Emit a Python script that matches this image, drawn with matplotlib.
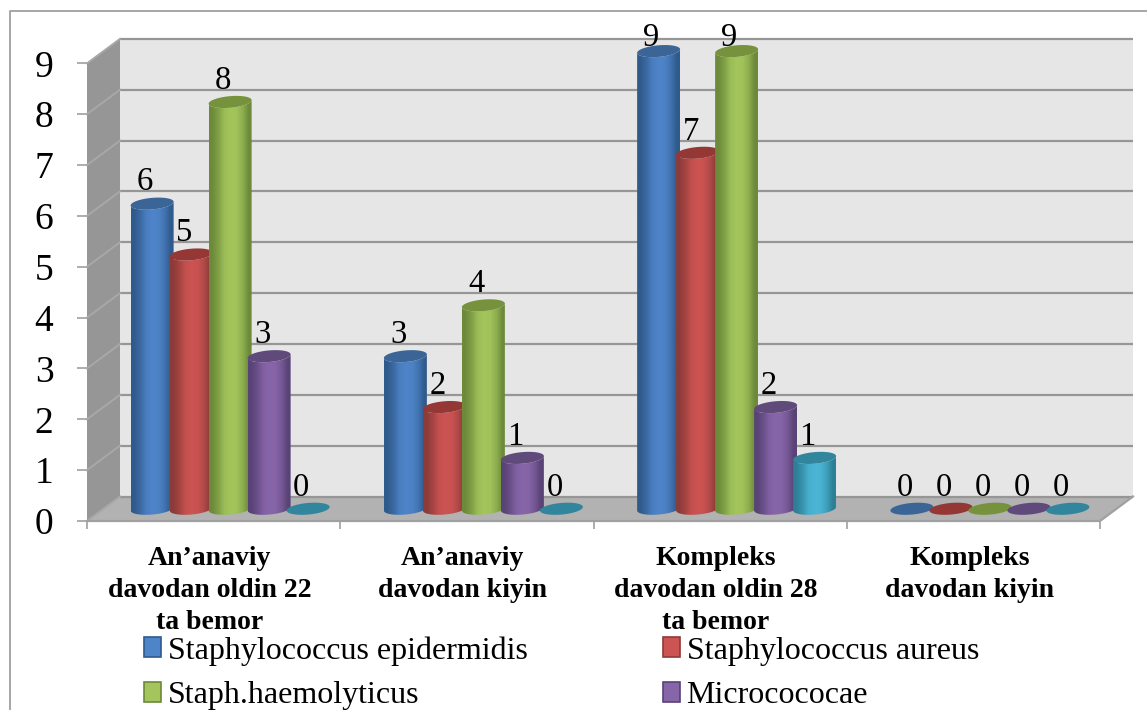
import numpy as np
import matplotlib
matplotlib.use('Agg')
import matplotlib.pyplot as plt
from matplotlib.colors import to_rgb
from matplotlib.lines import Line2D
from matplotlib.patches import Patch, Polygon

plt.rcParams['font.family'] = ['Liberation Serif', 'DejaVu Serif']

categories = ['An’anaviy\ndavodan oldin 22\nta bemor',
              'An’anaviy\ndavodan kiyin',
              'Kompleks\ndavodan oldin 28\nta bemor',
              'Kompleks\ndavodan kiyin']
legend_names = ['Staphylococcus epidermidis', 'Staphylococcus aureus',
                'Staph.haemolyticus', 'Micrococ' 'ocae']

epidermidis = [6, 3, 9, 0]
aureus = [5, 2, 7, 0]
haemolyticus = [8, 4, 9, 0]
micrococcae = [3, 1, 2, 0]
other = [0, 0, 1, 0]
series = [epidermidis, aureus, haemolyticus, micrococcae, other]

# edge, middle and top-cap colour of each cylinder
edge_colors = ['#2f5a8c', '#8c3b39', '#6c8a3a', '#594376', '#2c7f96']
mid_colors = ['#4e84c8', '#cc5452', '#a3c55c', '#8765a9', '#4cb5d5']
top_colors = ['#3a6596', '#953735', '#76923c', '#604a7b', '#31859c']

# pixel scale of the front plane
PX_X = 253.25
PX_Y = 50.85
DEPTH_X = 33 / PX_X
DEPTH_Y = 24.5 / PX_Y
PITCH = 39 / PX_X
WIDTH = 43 / PX_X
CAP_B = 5.8 / PX_Y
CAP_S = 1.8 / PX_Y

xmax = len(categories)
ymax = 9
ytop = 10.2  # headroom above the last gridline so the tall cylinders are not cut

fig = plt.figure(figsize=(11.47, 7.10), dpi=100)
ax = fig.add_axes([87 / 1147, (710 - 521) / 710, 1013 / 1147, ytop * PX_Y / 710])
ax.patch.set_visible(False)
for sp in ax.spines.values():
    sp.set_visible(False)


def cap_points(cx, cy, t):
    x = cx + WIDTH / 2 * np.cos(t)
    y = cy + CAP_B * np.sin(t) + CAP_S * np.cos(t)
    return np.column_stack([x, y])


def draw_cylinder(cx, base, value, i, z):
    if value > 0:
        t = np.linspace(np.pi, 2 * np.pi, 40)
        low = cap_points(cx, base, t)
        up = cap_points(cx, base + value, t[::-1])
        body = Polygon(np.vstack([low, up]), closed=True, transform=ax.transData)
        edge = np.array(to_rgb(edge_colors[i]))
        mid = np.array(to_rgb(mid_colors[i]))
        shade = np.array([0.0, 0.35, 0.85, 1.0, 0.95, 0.6, 0.0])[:, None]
        grad = (edge + (mid - edge) * shade)[None, :, :]
        im = ax.imshow(grad, extent=[cx - WIDTH / 2, cx + WIDTH / 2, base - 0.2, base + value + 0.2],
                       aspect='auto', interpolation='bilinear', zorder=z)
        im.set_clip_path(body)
    t = np.linspace(0, 2 * np.pi, 80)
    ax.add_patch(Polygon(cap_points(cx, base + value, t), closed=True, fc=top_colors[i],
                         ec='none', zorder=z + 0.1, clip_on=False))


# walls and floor
ax.fill([DEPTH_X, xmax + DEPTH_X, xmax + DEPTH_X, DEPTH_X],
        [DEPTH_Y, DEPTH_Y, ymax + DEPTH_Y, ymax + DEPTH_Y], color='#e6e6e6', lw=0, zorder=1, clip_on=False)
ax.fill([0, DEPTH_X, DEPTH_X, 0], [0, DEPTH_Y, ymax + DEPTH_Y, ymax], color='#969696', lw=0, zorder=1, clip_on=False)
ax.fill([0, xmax, xmax + DEPTH_X, DEPTH_X], [0, 0, DEPTH_Y, DEPTH_Y], color='#b2b2b2', lw=0, zorder=1, clip_on=False)

for v in range(ymax + 1):
    ax.plot([DEPTH_X, xmax + DEPTH_X], [v + DEPTH_Y, v + DEPTH_Y], color='#969696', lw=1.6, zorder=2,
            clip_on=False, solid_capstyle='butt')
    ax.plot([0, DEPTH_X], [v, v + DEPTH_Y], color='#a8a8a8', lw=1.4, zorder=2, clip_on=False)
ax.plot([0, xmax, xmax + DEPTH_X], [0, 0, DEPTH_Y], color='#a0a0a0', lw=1.6, zorder=2, clip_on=False)

# cylinders and value labels, left to right so that each one overlaps the previous
for g in range(len(categories)):
    for i, vals in enumerate(series):
        cx = g + 0.5 + DEPTH_X / 2 + (i - 2) * PITCH
        v = vals[g]
        draw_cylinder(cx, DEPTH_Y / 2, v, i, 3 + g + i * 0.2)
        ax.text(cx - 7 / PX_X, min(v + DEPTH_Y / 2 + 21.5 / PX_Y, 9.5), str(v), ha='center', va='center',
                fontsize=23.5, color='black', zorder=10)

ax.set_xlim(0, xmax)
ax.set_ylim(0, ytop)
ax.set_yticks(range(ymax + 1))
ax.tick_params(axis='y', length=7.2, width=1.2, color='#a0a0a0', labelsize=27, pad=17)
ax.set_xticks(range(xmax + 1))
ax.set_xticklabels([])
ax.tick_params(axis='x', which='major', length=6, width=1.2, color='#a0a0a0')
ax.set_xticks(np.arange(xmax) + 0.484, minor=True)
ax.set_xticklabels(categories, minor=True, fontsize=20, fontweight='bold', linespacing=1.36, va='top')
ax.tick_params(axis='x', which='minor', length=0, pad=18)

handles = [Patch(fc=mid_colors[i], ec=edge_colors[i], lw=1.2, label=legend_names[i]) for i in range(4)]
# two rows, filled row by row
order = [handles[0], handles[2], handles[1], handles[3]]
fig.legend(handles=order, ncol=2, frameon=False, fontsize=23, loc='upper left',
           bbox_to_anchor=(144 / 1147, 1 - 636 / 710), borderaxespad=0, borderpad=0,
           handlelength=0.54, handleheight=0.58, handletextpad=0.2, columnspacing=4.24,
           labelspacing=0.49)

# chart border, only its top and left sides are in frame
fig.add_artist(Line2D([9.5 / 1147, 9.5 / 1147, 1], [0, 1 - 11 / 710, 1 - 11 / 710], color='#a6a6a6', lw=1.4))

fig.savefig('out.png', dpi=100)
